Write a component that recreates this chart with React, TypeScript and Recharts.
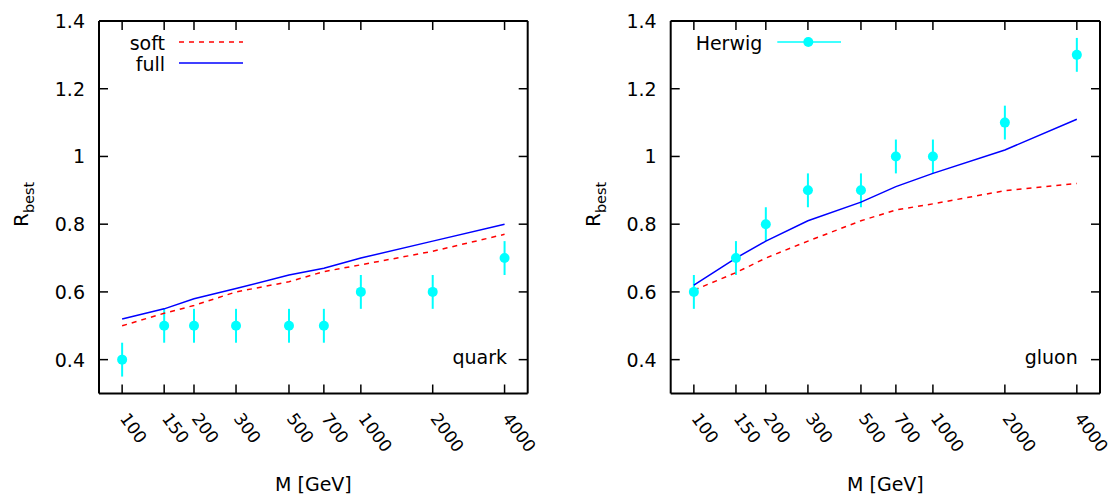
import { ComposedChart, Line, Scatter, ErrorBar, XAxis, YAxis } from 'recharts';

// M [GeV] sampling points (also the x tick labels)
const masses = [100, 150, 200, 300, 500, 700, 1000, 2000, 4000];
const yTicks = [0.4, 0.6, 0.8, 1, 1.2, 1.4];

// quark panel
const quarkSoft = [0.5, 0.537, 0.56, 0.6, 0.63, 0.66, 0.68, 0.72, 0.77];
const quarkFull = [0.52, 0.55, 0.58, 0.61, 0.65, 0.67, 0.7, 0.75, 0.8];
const quarkHerwig = [0.4, 0.5, 0.5, 0.5, 0.5, 0.5, 0.6, 0.6, 0.7];

// gluon panel
const gluonSoft = [0.605, 0.657, 0.7, 0.75, 0.81, 0.842, 0.86, 0.899, 0.92];
const gluonFull = [0.62, 0.7, 0.75, 0.81, 0.865, 0.911, 0.95, 1.019, 1.11];
const gluonHerwig = [0.6, 0.7, 0.8, 0.9, 0.9, 1.0, 1.0, 1.1, 1.3];

const herwigErr = 0.05;

const FONT = '"DejaVu Sans", sans-serif';
const CYAN = '#00ffff';

const buildRows = (soft: number[], full: number[], herwig: number[]) =>
  masses.map((m, i) => ({ m, soft: soft[i], full: full[i], herwig: herwig[i], err: herwigErr }));

const BottomTick = (props: any) => {
  const { x, y, payload } = props;
  const tx = x - 3;
  const ty = y + 25;
  return (
    <g>
      <line x1={x} y1={y} x2={x} y2={y - 9} stroke="#000" strokeWidth={1.5} />
      <text
        x={tx}
        y={ty}
        transform={`rotate(54, ${tx}, ${ty})`}
        textAnchor="start"
        fontFamily={FONT}
        fontSize={17}
        fill="#000"
      >
        {payload.value}
      </text>
    </g>
  );
};

const TopTick = (props: any) => {
  const { x, y } = props;
  return <line x1={x} y1={y} x2={x} y2={y + 9} stroke="#000" strokeWidth={1.5} />;
};

const LeftTick = (props: any) => {
  const { x, y, payload } = props;
  return (
    <g>
      <line x1={x} y1={y} x2={x + 9} y2={y} stroke="#000" strokeWidth={1.5} />
      <text
        x={x - 14}
        y={y}
        textAnchor="end"
        dominantBaseline="central"
        fontFamily={FONT}
        fontSize={19}
        fill="#000"
      >
        {payload.value}
      </text>
    </g>
  );
};

const RightTick = (props: any) => {
  const { x, y } = props;
  return <line x1={x} y1={y} x2={x - 9} y2={y} stroke="#000" strokeWidth={1.5} />;
};

const HerwigDot = (props: any) => <circle cx={props.cx} cy={props.cy} r={5} fill={CYAN} />;

interface PanelProps {
  rows: any[];
  width: number;
  plotLeft: number;
  marginRight: number;
}

function Panel({ rows, width, plotLeft, marginRight }: PanelProps) {
  const axisLine = { stroke: '#000', strokeWidth: 2 };
  return (
    <ComposedChart
      width={width}
      height={497}
      data={rows}
      margin={{ top: 20, right: marginRight, bottom: 0, left: 0 }}
    >
      <XAxis
        dataKey="m"
        type="number"
        scale="log"
        domain={[80, 5000]}
        ticks={masses}
        interval={0}
        allowDataOverflow
        height={103.5}
        tickSize={0}
        tickMargin={0}
        tickLine={false}
        axisLine={axisLine}
        tick={<BottomTick />}
      />
      <XAxis
        xAxisId="top"
        orientation="top"
        dataKey="m"
        type="number"
        scale="log"
        domain={[80, 5000]}
        ticks={masses}
        interval={0}
        allowDataOverflow
        height={1}
        tickSize={0}
        tickMargin={0}
        tickLine={false}
        axisLine={axisLine}
        tick={<TopTick />}
      />
      <YAxis
        type="number"
        domain={[0.3, 1.4]}
        ticks={yTicks}
        interval={0}
        allowDataOverflow
        width={plotLeft}
        tickSize={0}
        tickMargin={0}
        tickLine={false}
        axisLine={axisLine}
        tick={<LeftTick />}
      />
      <YAxis
        yAxisId="right"
        orientation="right"
        type="number"
        domain={[0.3, 1.4]}
        ticks={yTicks}
        interval={0}
        allowDataOverflow
        width={1}
        tickSize={0}
        tickMargin={0}
        tickLine={false}
        axisLine={axisLine}
        tick={<RightTick />}
      />
      <Scatter dataKey="herwig" fill={CYAN} shape={<HerwigDot />} isAnimationActive={false}>
        <ErrorBar dataKey="err" direction="y" width={0} stroke={CYAN} strokeWidth={2} />
      </Scatter>
      <Line
        type="linear"
        dataKey="soft"
        stroke="#ff0000"
        strokeWidth={1.5}
        strokeDasharray="5 5"
        dot={false}
        activeDot={false}
        isAnimationActive={false}
      />
      <Line
        type="linear"
        dataKey="full"
        stroke="#0000ff"
        strokeWidth={1.5}
        dot={false}
        activeDot={false}
        isAnimationActive={false}
      />
    </ComposedChart>
  );
}

function YLabel({ x }: { x: number }) {
  return (
    <text x={x} y={227} transform={`rotate(-90, ${x}, 227)`} fontFamily={FONT} fontSize={20} fill="#000">
      R
      <tspan dy={6} fontSize={14.5}>best</tspan>
    </text>
  );
}

const overlay: React.CSSProperties = { position: 'absolute', left: 0, top: 0, pointerEvents: 'none' };

export default function App() {
  const quarkRows = buildRows(quarkSoft, quarkFull, quarkHerwig);
  const gluonRows = buildRows(gluonSoft, gluonFull, gluonHerwig);
  return (
    <div style={{ position: 'absolute', left: 0, top: 0, width: 1111, height: 497, background: '#fff' }}>
      <div style={{ position: 'absolute', left: 0, top: 0, width: 556, height: 497 }}>
        <Panel rows={quarkRows} width={556} plotLeft={99} marginRight={27.3} />
        <svg width={556} height={497} style={overlay}>
          <text x={165} y={42.5} textAnchor="end" dominantBaseline="central" fontFamily={FONT} fontSize={19}>soft</text>
          <line x1={179} y1={42} x2={243} y2={42} stroke="#ff0000" strokeWidth={1.5} strokeDasharray="5 5" />
          <text x={165} y={63.5} textAnchor="end" dominantBaseline="central" fontFamily={FONT} fontSize={19}>full</text>
          <line x1={179} y1={63} x2={243} y2={63} stroke="#0000ff" strokeWidth={1.5} />
          <text x={507} y={356.5} textAnchor="end" dominantBaseline="central" fontFamily={FONT} fontSize={19}>quark</text>
          <text x={313.4} y={484} textAnchor="middle" dominantBaseline="central" fontFamily={FONT} fontSize={19}>M [GeV]</text>
          <YLabel x={28} />
        </svg>
      </div>
      <div style={{ position: 'absolute', left: 556, top: 0, width: 555, height: 497 }}>
        <Panel rows={gluonRows} width={555} plotLeft={114.7} marginRight={10} />
        <svg width={555} height={497} style={overlay}>
          <text x={206.3} y={42.5} textAnchor="end" dominantBaseline="central" fontFamily={FONT} fontSize={19}>Herwig</text>
          <line x1={221.3} y1={42} x2={285} y2={42} stroke={CYAN} strokeWidth={1.5} />
          <circle cx={252.3} cy={42} r={5} fill={CYAN} />
          <text x={521.7} y={356.5} textAnchor="end" dominantBaseline="central" fontFamily={FONT} fontSize={19}>gluon</text>
          <text x={329.4} y={484} textAnchor="middle" dominantBaseline="central" fontFamily={FONT} fontSize={19}>M [GeV]</text>
          <YLabel x={43.7} />
        </svg>
      </div>
    </div>
  );
}
